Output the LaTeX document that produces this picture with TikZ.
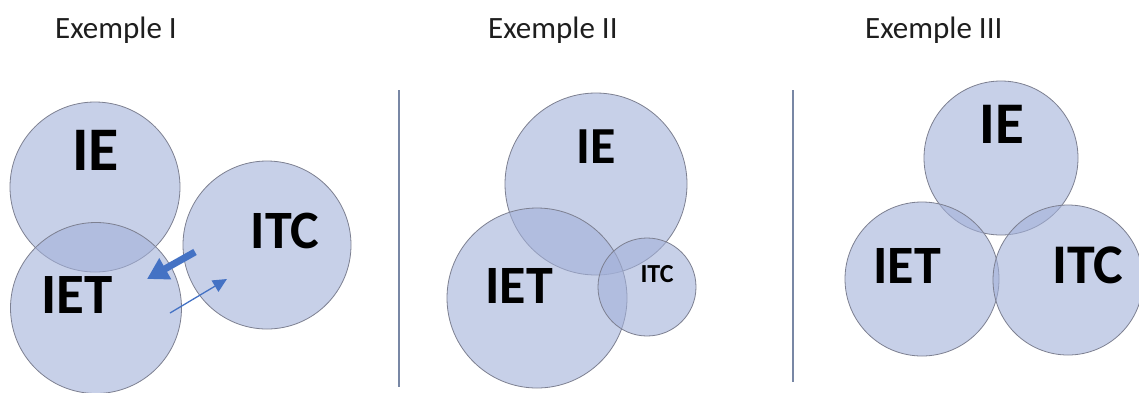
\documentclass[tikz,border=0pt]{standalone}
\usepackage{fontspec}
\setmainfont{Carlito}
\usetikzlibrary{arrows.meta}
\definecolor{cfill}{RGB}{163,177,217}
\definecolor{cedge}{RGB}{125,128,145}
\definecolor{arrowblue}{RGB}{68,114,196}
\definecolor{sepline}{RGB}{120,135,165}
\definecolor{titlecol}{RGB}{30,30,30}
\tikzset{
  circ/.style={circle, inner sep=0pt, fill=cfill, fill opacity=0.6, draw=cedge, draw opacity=1, line width=0.8pt},
  lbl/.style={anchor=base, inner sep=0pt, font=\bfseries\fontsize{#1}{#1}\selectfont, text=black},
  title/.style={anchor=base west, inner sep=0pt, font=\fontsize{31}{31}\selectfont, text=titlecol},
  sep/.style={draw=sepline, line width=1.4pt},
  bigarrow/.style={draw=arrowblue, line width=7pt, -{Triangle[length=21pt,width=23pt]}, arrowblue},
  thinarrow/.style={draw=arrowblue, line width=1.3pt, -{Triangle[length=14pt,width=13pt]}, arrowblue}
}
\begin{document}
\begin{tikzpicture}[x=1pt,y=-1pt]
\useasboundingbox (0,0) rectangle (1139,392);
\fill[white] (0,0) rectangle (1139,392);

% titles
\node[title] (t1) at (55,38) {Exemple I};
\node[title] (t2) at (488,38) {Exemple II};
\node[title] (t3) at (865,38) {Exemple III};

% separators
\coordinate (s1a) at (399,90);
\coordinate (s1b) at (399,387);
\coordinate (s2a) at (793,90);
\coordinate (s2b) at (793,382);
\draw[sep] (s1a) -- (s1b);
\draw[sep] (s2a) -- (s2b);

% Example I
\node[circ, minimum size=170pt] (aIE) at (95,187) {};
\node[circ, minimum size=168pt] (aITC) at (267,245) {};
\node[circ, minimum size=171pt] (aIET) at (96,308) {};
\node[lbl=62] (aIEt) at (95.5,170) {IE};
\node[lbl=57] (aIETt) at (77,313) {IET};
\node[lbl=54] (aITCt) at (285,248) {ITC};
\coordinate (b1s) at (195,252);
\coordinate (b1t) at (147,279);
\coordinate (b2s) at (170,313);
\coordinate (b2t) at (227,279);
\draw[bigarrow] (b1s) -- (b1t);
\draw[thinarrow] (b2s) -- (b2t);

% Example II
\node[circ, minimum size=182pt] (bIE) at (596,184) {};
\node[circ, minimum size=180pt] (bIET) at (537,298) {};
\node[circ, minimum size=98pt] (bITC) at (647,287) {};
\node[lbl=52] (bIEt) at (596,163) {IE};
\node[lbl=54] (bIETt) at (519,303) {IET};
\node[lbl=26] (bITCt) at (657,282) {ITC};

% Example III
\node[circ, minimum size=154pt] (cIE) at (1001,158) {};
\node[circ, minimum size=154pt] (cIET) at (922,279) {};
\node[circ, minimum size=150pt] (cITC) at (1068,280) {};
\node[lbl=59] (cIEt) at (1002,143) {IE};
\node[lbl=54] (cIETt) at (907,283) {IET};
\node[lbl=56] (cITCt) at (1088,283) {ITC};
\end{tikzpicture}
\end{document}
